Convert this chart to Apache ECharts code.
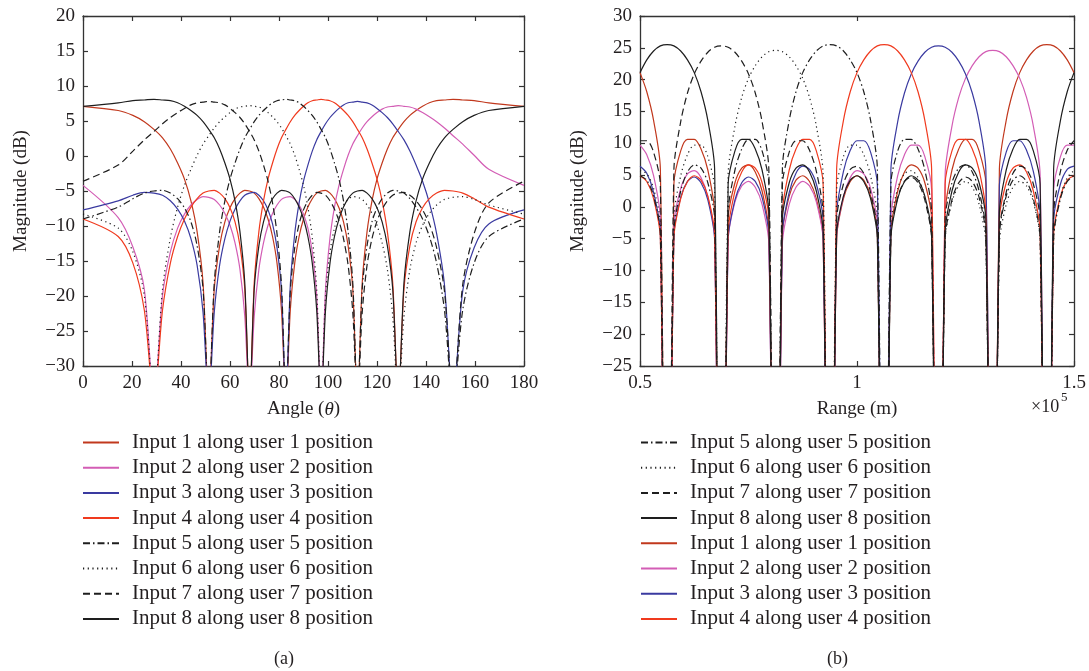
<!DOCTYPE html>
<html><head><meta charset="utf-8">
<script src="https://cdn.jsdelivr.net/npm/echarts@6/dist/echarts.min.js"></script>
<style>html,body{margin:0;padding:0;background:#fff;}#c{width:1089px;height:671px;}</style>
</head><body><div id="c"></div>
<script>
// ---------- names ----------
const NAMES = ['Input 1 along user 1 position','Input 2 along user 2 position','Input 3 along user 3 position','Input 4 along user 4 position','Input 5 along user 5 position','Input 6 along user 6 position','Input 7 along user 7 position','Input 8 along user 8 position'];
const LEGEND_A = [0,1,2,3,4,5,6,7];
const LEGEND_B = [4,5,6,7,0,1,2,3];

// ---------- panel (a): angle in degrees ----------
const thetaA = [0,14.36,20.36,25.02,28.96,32.46,35.66,38.62,41.41,44.05,46.57,48.99,51.32,53.58,55.77,57.91,60,62.05,64.06,66.03,67.98,69.89,71.79,73.67,75.52,77.36,79.19,81.01,82.82,84.62,86.42,88.21,90,91.79,93.58,95.38,97.18,98.99,100.81,102.64,104.48,106.33,108.21,110.11,112.02,113.97,115.94,117.95,120,122.09,124.23,126.42,128.68,131.01,133.43,135.95,138.59,141.38,144.34,147.54,151.04,154.98,159.64,165.64,180];

const a1 = [7.1,6.5,5.8,4.9,3.8,2.6,1.0,-1.0,-3.3,-6.4,-10.8,-18.1,-35,-19.0,-12.8,-9.4,-7.4,-6.1,-5.3,-4.9,-5.0,-5.3,-6.1,-7.3,-9.0,-11.5,-15.3,-22.0,-35,-22.0,-15.3,-11.5,-9.0,-7.3,-6.1,-5.3,-5.0,-4.9,-5.3,-6.1,-7.4,-9.4,-12.8,-19.0,-35,-18.1,-10.8,-6.4,-3.3,-1.0,1.0,2.6,3.8,4.9,5.8,6.5,7.1,7.6,7.9,8.0,8.1,8.0,7.9,7.6,7.1];
const a2 = [-4.2,-8.8,-13.0,-19.0,-35,-19.9,-13.7,-10.3,-8.3,-7.0,-6.2,-5.8,-5.9,-6.2,-7.0,-8.2,-9.9,-12.4,-16.2,-22.9,-35,-22.9,-16.2,-12.4,-9.9,-8.2,-7.0,-6.2,-5.9,-5.8,-6.2,-7.0,-8.3,-10.3,-13.7,-19.9,-35,-19.0,-11.7,-7.3,-4.2,-1.9,0.1,1.7,2.9,4.0,4.9,5.6,6.2,6.7,7.0,7.1,7.2,7.1,7.0,6.7,6.2,5.6,4.9,4.0,2.9,1.7,0.1,-1.9,-4.2];
const a3 = [-7.7,-6.4,-5.6,-5.2,-5.3,-5.6,-6.4,-7.6,-9.3,-11.8,-15.6,-22.3,-35,-22.3,-15.6,-11.8,-9.3,-7.6,-6.4,-5.6,-5.3,-5.2,-5.6,-6.4,-7.7,-9.7,-13.1,-19.3,-35,-18.4,-11.1,-6.7,-3.6,-1.3,0.7,2.3,3.5,4.6,5.5,6.2,6.8,7.3,7.6,7.7,7.8,7.7,7.6,7.3,6.8,6.2,5.5,4.6,3.5,2.3,0.7,-1.3,-3.6,-6.7,-11.1,-18.4,-35,-19.3,-13.1,-9.7,-7.7];
const a4 = [-9.0,-11.5,-15.3,-22.0,-35,-22.0,-15.3,-11.5,-9.0,-7.3,-6.1,-5.3,-5.0,-4.9,-5.3,-6.1,-7.4,-9.4,-12.8,-19.0,-35,-18.1,-10.8,-6.4,-3.3,-1.0,1.0,2.6,3.8,4.9,5.8,6.5,7.1,7.6,7.9,8.0,8.1,8.0,7.9,7.6,7.1,6.5,5.8,4.9,3.8,2.6,1.0,-1.0,-3.3,-6.4,-10.8,-18.1,-35,-19.0,-12.8,-9.4,-7.4,-6.1,-5.3,-4.9,-5.0,-5.3,-6.1,-7.3,-9.0];
const a5 = [-9.0,-7.3,-6.1,-5.3,-5.0,-4.9,-5.3,-6.1,-7.4,-9.4,-12.8,-19.0,-35,-18.1,-10.8,-6.4,-3.3,-1.0,1.0,2.6,3.8,4.9,5.8,6.5,7.1,7.6,7.9,8.0,8.1,8.0,7.9,7.6,7.1,6.5,5.8,4.9,3.8,2.6,1.0,-1.0,-3.3,-6.4,-10.8,-18.1,-35,-19.0,-12.8,-9.4,-7.4,-6.1,-5.3,-4.9,-5.0,-5.3,-6.1,-7.3,-9.0,-11.5,-15.3,-22.0,-35,-22.0,-15.3,-11.5,-9.0];
const a6 = [-8.3,-10.3,-13.7,-19.9,-35,-19.0,-11.7,-7.3,-4.2,-1.9,0.1,1.7,2.9,4.0,4.9,5.6,6.2,6.7,7.0,7.1,7.2,7.1,7.0,6.7,6.2,5.6,4.9,4.0,2.9,1.7,0.1,-1.9,-4.2,-7.3,-11.7,-19.0,-35,-19.9,-13.7,-10.3,-8.3,-7.0,-6.2,-5.8,-5.9,-6.2,-7.0,-8.2,-9.9,-12.4,-16.2,-22.9,-35,-22.9,-16.2,-12.4,-9.9,-8.2,-7.0,-6.2,-5.9,-5.8,-6.2,-7.0,-8.3];
const a7 = [-3.6,-1.3,0.7,2.3,3.5,4.6,5.5,6.2,6.8,7.3,7.6,7.7,7.8,7.7,7.6,7.3,6.8,6.2,5.5,4.6,3.5,2.3,0.7,-1.3,-3.6,-6.7,-11.1,-18.4,-35,-19.3,-13.1,-9.7,-7.7,-6.4,-5.6,-5.2,-5.3,-5.6,-6.4,-7.6,-9.3,-11.8,-15.6,-22.3,-35,-22.3,-15.6,-11.8,-9.3,-7.6,-6.4,-5.6,-5.3,-5.2,-5.6,-6.4,-7.7,-9.7,-13.1,-19.3,-35,-18.4,-11.1,-6.7,-3.6];
const a8 = [7.1,7.6,7.9,8.0,8.1,8.0,7.9,7.6,7.1,6.5,5.8,4.9,3.8,2.6,1.0,-1.0,-3.3,-6.4,-10.8,-18.1,-35,-19.0,-12.8,-9.4,-7.4,-6.1,-5.3,-4.9,-5.0,-5.3,-6.1,-7.3,-9.0,-11.5,-15.3,-22.0,-35,-22.0,-15.3,-11.5,-9.0,-7.3,-6.1,-5.3,-5.0,-4.9,-5.3,-6.1,-7.4,-9.4,-12.8,-19.0,-35,-18.1,-10.8,-6.4,-3.3,-1.0,1.0,2.6,3.8,4.9,5.8,6.5,7.1];

// ---------- panel (b): range in units of 1e5 m ----------
const rangeB = [0.5,0.5156,0.5313,0.5469,0.5625,0.5781,0.5938,0.6094,0.625,0.6406,0.6563,0.6719,0.6875,0.7031,0.7188,0.7344,0.75,0.7656,0.7813,0.7969,0.8125,0.8281,0.8438,0.8594,0.875,0.8906,0.9063,0.9219,0.9375,0.9531,0.9688,0.9844,1.0,1.0156,1.0313,1.0469,1.0625,1.0781,1.0938,1.1094,1.125,1.1406,1.1563,1.1719,1.1875,1.2031,1.2188,1.2344,1.25,1.2656,1.2813,1.2969,1.3125,1.3281,1.3438,1.3594,1.375,1.3906,1.4063,1.4219,1.4375,1.4531,1.4688,1.4844,1.5];

const b1 = [21.1,18.1,13.6,6.0,-100,3.6,8.8,10.6,10.6,9.1,5.8,-0.9,-100,-1.9,3.8,6.1,6.6,5.5,2.5,-3.9,-100,-4.3,1.7,4.2,4.9,4.0,1.3,-4.9,-100,-4.9,1.3,4.0,4.9,4.2,1.7,-4.3,-100,-3.9,2.5,5.5,6.6,6.1,3.8,-1.9,-100,-0.9,5.8,9.1,10.6,10.6,8.8,3.6,-100,6.0,13.6,18.1,21.1,23.1,24.5,25.3,25.5,25.3,24.5,23.1,21.1];
const b2 = [9.7,8.2,4.9,-1.8,-100,-2.8,2.9,5.2,5.7,4.6,1.6,-4.8,-100,-5.2,0.8,3.3,4.0,3.1,0.4,-5.8,-100,-5.8,0.4,3.1,4.0,3.3,0.8,-5.2,-100,-4.8,1.6,4.6,5.7,5.2,2.9,-2.8,-100,-1.8,4.9,8.2,9.7,9.7,7.9,2.7,-100,5.1,12.7,17.2,20.2,22.2,23.6,24.4,24.6,24.4,23.6,22.2,20.2,17.2,12.7,5.1,-100,2.7,7.9,9.7,9.7];
const b3 = [6.4,5.3,2.3,-4.1,-100,-4.5,1.5,4.0,4.7,3.8,1.1,-5.1,-100,-5.1,1.1,3.8,4.7,4.0,1.5,-4.5,-100,-4.1,2.3,5.3,6.4,5.9,3.6,-2.1,-100,-1.1,5.6,8.9,10.4,10.4,8.6,3.4,-100,5.8,13.4,17.9,20.9,22.9,24.3,25.1,25.3,25.1,24.3,22.9,20.9,17.9,13.4,5.8,-100,3.4,8.6,10.4,10.4,8.9,5.6,-1.1,-100,-2.1,3.6,5.9,6.4];
const b4 = [4.9,4.0,1.3,-4.9,-100,-4.9,1.3,4.0,4.9,4.2,1.7,-4.3,-100,-3.9,2.5,5.5,6.6,6.1,3.8,-1.9,-100,-0.9,5.8,9.1,10.6,10.6,8.8,3.6,-100,6.0,13.6,18.1,21.1,23.1,24.5,25.3,25.5,25.3,24.5,23.1,21.1,18.1,13.6,6.0,-100,3.6,8.8,10.6,10.6,9.1,5.8,-0.9,-100,-1.9,3.8,6.1,6.6,5.5,2.5,-3.9,-100,-4.3,1.7,4.2,4.9];
const b5 = [4.9,4.2,1.7,-4.3,-100,-3.9,2.5,5.5,6.6,6.1,3.8,-1.9,-100,-0.9,5.8,9.1,10.6,10.6,8.8,3.6,-100,6.0,13.6,18.1,21.1,23.1,24.5,25.3,25.5,25.3,24.5,23.1,21.1,18.1,13.6,6.0,-100,3.6,8.8,10.6,10.6,9.1,5.8,-0.9,-100,-1.9,3.8,6.1,6.6,5.5,2.5,-3.9,-100,-4.3,1.7,4.2,4.9,4.0,1.3,-4.9,-100,-4.9,1.3,4.0,4.9];
const b6 = [5.7,5.2,2.9,-2.8,-100,-1.8,4.9,8.2,9.7,9.7,7.9,2.7,-100,5.1,12.7,17.2,20.2,22.2,23.6,24.4,24.6,24.4,23.6,22.2,20.2,17.2,12.7,5.1,-100,2.7,7.9,9.7,9.7,8.2,4.9,-1.8,-100,-2.8,2.9,5.2,5.7,4.6,1.6,-4.8,-100,-5.2,0.8,3.3,4.0,3.1,0.4,-5.8,-100,-5.8,0.4,3.1,4.0,3.3,0.8,-5.2,-100,-4.8,1.6,4.6,5.7];
const b7 = [10.4,10.4,8.6,3.4,-100,5.8,13.4,17.9,20.9,22.9,24.3,25.1,25.3,25.1,24.3,22.9,20.9,17.9,13.4,5.8,-100,3.4,8.6,10.4,10.4,8.9,5.6,-1.1,-100,-2.1,3.6,5.9,6.4,5.3,2.3,-4.1,-100,-4.5,1.5,4.0,4.7,3.8,1.1,-5.1,-100,-5.1,1.1,3.8,4.7,4.0,1.5,-4.5,-100,-4.1,2.3,5.3,6.4,5.9,3.6,-2.1,-100,-1.1,5.6,8.9,10.4];
const b8 = [21.1,23.1,24.5,25.3,25.5,25.3,24.5,23.1,21.1,18.1,13.6,6.0,-100,3.6,8.8,10.6,10.6,9.1,5.8,-0.9,-100,-1.9,3.8,6.1,6.6,5.5,2.5,-3.9,-100,-4.3,1.7,4.2,4.9,4.0,1.3,-4.9,-100,-4.9,1.3,4.0,4.9,4.2,1.7,-4.3,-100,-3.9,2.5,5.5,6.6,6.1,3.8,-1.9,-100,-0.9,5.8,9.1,10.6,10.6,8.8,3.6,-100,6.0,13.6,18.1,21.1];

// ---------- tick settings ----------
const yTicksA = {min:-30, max:20, interval:5};
const xTicksA = {min:0, max:180, interval:20};
const yTicksB = {min:-25, max:30, interval:5};
const xTicksB = {min:0.5, max:1.5, interval:0.5};

// ---------- styles ----------
const FONT = 'Liberation Serif';
const TXT = '#231f20';
const STYLES = [
  {color:'#c1381d', type:'solid'},
  {color:'#d35db5', type:'solid'},
  {color:'#3a3aa0', type:'solid'},
  {color:'#f03a1e', type:'solid'},
  {color:'#1e1e1e', type:[7,3,1.5,3]},
  {color:'#1e1e1e', type:[1.2,3.5]},
  {color:'#1e1e1e', type:[7,4]},
  {color:'#1e1e1e', type:'solid'}
];
const A = [a1,a2,a3,a4,a5,a6,a7,a8];
const B = [b1,b2,b3,b4,b5,b6,b7,b8];

const minus = v => String(v).replace('-', '\u2212');
const axisLineStyle = {show:true, onZero:false, lineStyle:{color:'#333', width:1.3}};
const labelStyle = {fontFamily:FONT, fontSize:19, color:TXT};

function axesPair(gi, t, isX, label) {
  const base = {
    type:'value', gridIndex:gi, min:t.min, max:t.max, interval:t.interval,
    axisLine:axisLineStyle, splitLine:{show:false},
    axisTick:{show:true, inside:true, length:5, lineStyle:{color:'#333', width:1.2}}
  };
  const main = Object.assign({}, base, {
    position: isX ? 'bottom' : 'left',
    axisLabel:Object.assign({margin:8, formatter:minus}, labelStyle)
  }, label || {});
  const other = Object.assign({}, base, {
    position: isX ? 'top' : 'right',
    axisLabel:{show:false}
  });
  return [main, other];
}

const xA = axesPair(0, xTicksA, true, {
  name:'Angle ({i|θ})', nameLocation:'middle', nameGap:34,
  nameTextStyle:{fontFamily:FONT, fontSize:19, color:TXT, rich:{i:{fontFamily:FONT, fontSize:19, fontStyle:'italic', color:TXT}}}
});
const yA = axesPair(0, yTicksA, false, {
  name:'Magnitude (dB)', nameLocation:'middle', nameGap:52,
  nameTextStyle:{fontFamily:FONT, fontSize:19, color:TXT}
});
const xB = axesPair(1, xTicksB, true, {
  name:'Range (m)', nameLocation:'middle', nameGap:34,
  nameTextStyle:{fontFamily:FONT, fontSize:19, color:TXT}
});
const yB = axesPair(1, yTicksB, false, {
  name:'Magnitude (dB)', nameLocation:'middle', nameGap:52,
  nameTextStyle:{fontFamily:FONT, fontSize:19, color:TXT}
});

const series = [];
A.forEach((arr, k) => series.push({
  name:NAMES[k], type:'line', xAxisIndex:0, yAxisIndex:0,
  data:thetaA.map((x,i)=>[x, arr[i]]), symbol:'none', clip:true, smooth:0.3,
  lineStyle:{color:STYLES[k].color, type:STYLES[k].type, width:1.2}, itemStyle:{color:STYLES[k].color},
  animation:false, z:2+k
}));
B.forEach((arr, k) => series.push({
  name:NAMES[k], type:'line', xAxisIndex:2, yAxisIndex:2,
  data:rangeB.map((x,i)=>[x, arr[i]]), symbol:'none', clip:true, smooth:0.3,
  lineStyle:{color:STYLES[k].color, type:STYLES[k].type, width:1.2}, itemStyle:{color:STYLES[k].color},
  animation:false, z:2+k
}));

const legendCommon = {
  orient:'vertical', itemWidth:36, itemHeight:14, itemGap:4.2, selectedMode:false,
  padding:0, height:240, width:340,
  itemStyle:{opacity:0},
  textStyle:{fontFamily:FONT, fontSize:21, color:TXT, padding:[0,0,0,8]}
};

const chart = echarts.init(document.getElementById('c'), null, {renderer:'canvas'});
chart.setOption({
  backgroundColor:'#fff',
  animation:false,
  grid:[
    {left:83, top:16, width:441, height:350},
    {left:640, top:16, width:434, height:350}
  ],
  xAxis:[xA[0], xA[1], xB[0], xB[1]],
  yAxis:[yA[0], yA[1], yB[0], yB[1]],
  legend:[
    Object.assign({left:82, top:432, data:LEGEND_A.map(i=>NAMES[i])}, legendCommon),
    Object.assign({left:640, top:432, data:LEGEND_B.map(i=>NAMES[i])}, legendCommon)
  ],
  graphic:[
    {type:'text', left:1031, top:398, style:{text:'×10', font:'18px "Liberation Serif"', fill:TXT}},
    {type:'text', left:1061, top:391, style:{text:'5', font:'13px "Liberation Serif"', fill:TXT}},
    {type:'text', left:274, top:650, style:{text:'(a)', font:'18px "Liberation Serif"', fill:TXT}},
    {type:'text', left:827, top:650, style:{text:'(b)', font:'18px "Liberation Serif"', fill:TXT}}
  ],
  series:series
});
</script>
</body></html>
